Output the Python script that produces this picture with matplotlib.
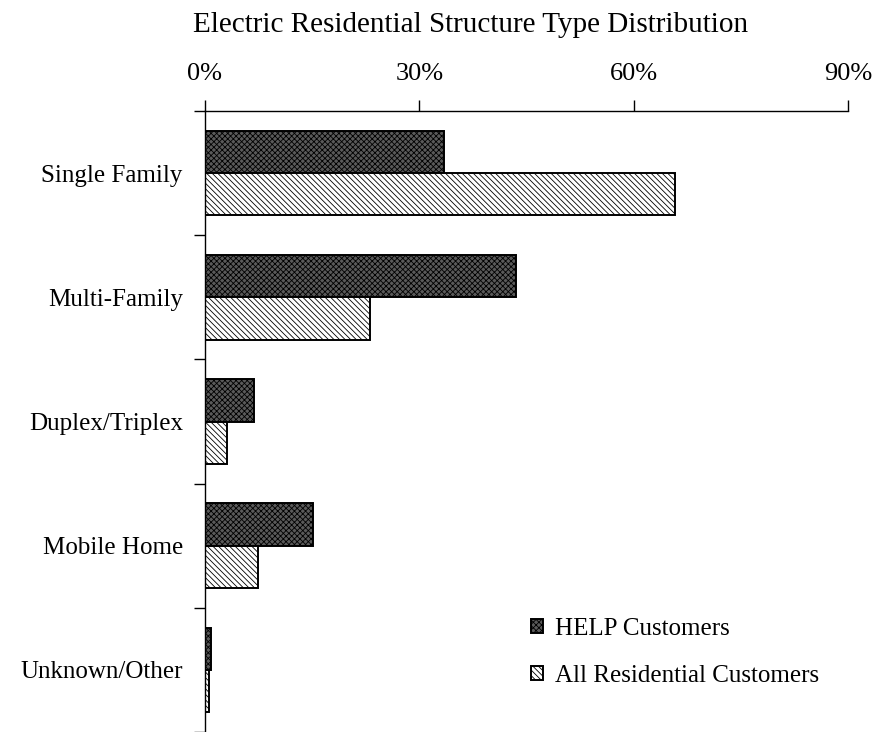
import numpy as np
import matplotlib.pyplot as plt

plt.rcParams['font.family'] = ['Liberation Serif', 'DejaVu Serif']
plt.rcParams['hatch.linewidth'] = 0.6

categories = ['Single Family', 'Multi-Family', 'Duplex/Triplex', 'Mobile Home', 'Unknown/Other']
help_pct = [33.5, 43.5, 6.9, 15.1, 0.8]
all_pct = [65.8, 23.1, 3.1, 7.4, 0.5]
series_names = ['HELP Customers', 'All Residential Customers']
xticks = [0, 30, 60, 90]

W, H = 874, 732
fig = plt.figure(figsize=(W / 100, H / 100), dpi=100)
ax = fig.add_axes([205 / W, 0.0, (848 - 205) / W, (H - 111) / H])

y = np.arange(len(categories))
h = 0.34
ax.barh(y - h / 2, help_pct, height=h, color='#5a5a5a', edgecolor='black',
        linewidth=1.4, hatch='xxxxxx', label=series_names[0])
ax.barh(y + h / 2, all_pct, height=h, color='white', edgecolor='black',
        linewidth=1.4, hatch='\\\\\\\\\\\\', label=series_names[1])

ax.set_ylim(len(categories) - 0.5, -0.5)
ax.set_xlim(0, 90)
ax.set_yticks(y)
ax.set_yticklabels(categories, fontsize=18)
ax.set_yticks(np.arange(len(categories) + 1) - 0.5, minor=True)
ax.tick_params(axis='y', which='major', length=0, pad=16)
ax.tick_params(axis='y', which='minor', length=8, width=1)

ax.xaxis.tick_top()
ax.set_xticks(xticks)
ax.set_xticklabels([f'{t}%' for t in xticks], fontsize=19)
ax.tick_params(axis='x', length=8, width=1, pad=11)

for s in ['right', 'bottom']:
    ax.spines[s].set_visible(False)
ax.spines['top'].set_linewidth(1)
ax.spines['left'].set_linewidth(1)

# legend sitting in the lower right, no frame
ax.legend(loc='upper left', bbox_to_anchor=(531 / W, 1 - 618 / H),
          bbox_transform=fig.transFigure, frameon=False, borderpad=0,
          borderaxespad=0, fontsize=18, handlelength=0.48, handleheight=0.48,
          labelspacing=1.0, handletextpad=0.48)

fig.text(193 / W, 1 - 32 / H, 'Electric Residential Structure Type Distribution',
         ha='left', va='baseline', fontsize=21)

fig.savefig('out.png', dpi=100)
